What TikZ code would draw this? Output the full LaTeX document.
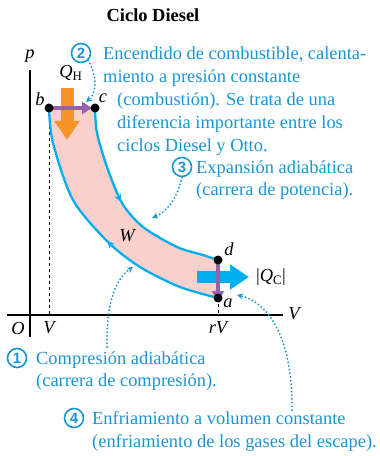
\documentclass[tikz,border=0pt]{standalone}
\usepackage{fontspec}
\setmainfont{Liberation Serif}
\newfontfamily\numfont{Liberation Sans}
\usepackage{xcolor}
\usetikzlibrary{arrows.meta,decorations.markings}

\definecolor{cycleblue}{RGB}{0,174,239}
\definecolor{noteblue}{RGB}{25,150,210}
\definecolor{areapink}{RGB}{249,208,204}
\definecolor{heatorange}{RGB}{247,148,40}
\definecolor{stepviolet}{RGB}{150,96,170}
\newcommand\notesize{\fontsize{18.5}{23}\selectfont}

\begin{document}
\begin{tikzpicture}[x=1bp, y=-1bp, every node/.style={font=\notesize, inner sep=0pt},
  note/.style={text=noteblue, align=left, anchor=north west},
  num/.style={circle, draw=noteblue, line width=1.6pt, text=noteblue, minimum size=19bp,
              font=\numfont\bfseries\fontsize{15}{15}\selectfont},
  dot/.style={circle, fill=black, minimum size=9bp},
  lbl/.style={font=\notesize\itshape},
  pointer/.style={noteblue, line width=2.1pt, line cap=round, dash pattern=on 0pt off 3.7pt,
                  -{Stealth[length=6bp, width=6bp, line cap=butt]}},
  branch/.style={cycleblue, line width=2.3pt,
                 postaction={decorate, decoration={markings,
                   mark=at position #1 with {\arrow{Stealth[length=8bp, width=7bp]}}}}},
  heat/.style={line width=#1, -{Triangle[length=19bp, width=24bp]}},
  turn/.style={stepviolet, line width=3.6pt, -{Triangle[length=10bp, width=12bp]}}]
  \useasboundingbox (0,0) rectangle (379,456);

  \node[font=\notesize\bfseries] (title) at (153,15) {Ciclo Diesel};

  % axes
  \draw[line width=1.1pt] (30,70) -- (30,337);
  \draw[line width=1.1pt] (7,315) -- (283,315);
  \node[lbl] (plbl) at (30,56) {p};
  \node[lbl] (Vax) at (294,314) {V};
  \node[lbl] (O) at (18,328) {O};
  \node[lbl] (V1) at (49,328) {V};
  \node[lbl] (rV) at (218,328) {rV};

  % corners of the cycle
  \coordinate (b) at (49,108);
  \coordinate (c) at (95,108);
  \coordinate (d) at (218,260);
  \coordinate (a) at (218,298);

  \fill[areapink] plot[smooth] coordinates {(c) (97,133) (107,167) (122,203) (143,227) (177,247) (203,255) (d)}
    -- plot[smooth] coordinates {(a) (180,287) (140,267) (108,242) (73,200) (53,143) (b)} -- cycle;

  \draw[dashed, line width=1pt] (b) -- (b |- 0,315);
  \draw[dashed, line width=1pt] (a) -- (a |- 0,315);

  \draw[branch=0.46] plot[smooth] coordinates {(c) (97,133) (107,167) (122,203) (143,227) (177,247) (203,255) (d)};
  \draw[branch=0.46] plot[smooth] coordinates {(a) (180,287) (140,267) (108,242) (73,200) (53,143) (b)};

  % heat in and out
  \coordinate (qh1) at (67,88);
  \coordinate (qh2) at (67,140);
  \draw[heat=13bp, heatorange] (qh1) -- (qh2);
  \coordinate (qc1) at (197,277);
  \coordinate (qc2) at (249,277);
  \draw[heat=12bp, cycleblue] (qc1) -- (qc2);

  \draw[turn] (b) -- ([xshift=-3bp]c);
  \draw[turn] (d) -- ([yshift=-3bp]a);

  \node[dot] (bd) at (b) {};
  \node[dot] (cd) at (c) {};
  \node[dot] (dd) at (d) {};
  \node[dot] (ad) at (a) {};
  \node[lbl] (blbl) at (40,99) {b};
  \node[lbl] (clbl) at (103,98) {c};
  \node[lbl] (dlbl) at (229,249) {d};
  \node[lbl] (albl) at (228,303) {a};
  \node[lbl] (W) at (127,236) {W};
  \node (QH) at (71,73) {\textit{Q}\textsubscript{H}};
  \node (QC) at (271,277) {|\textit{Q}\textsubscript{C}|};

  % notes
  \node[num] (n2) at (81,53) {2};
  \node[note] (t2) at (103,47) {Encendido de combustible, calenta-\\miento a presión constante\\
    \hspace*{14bp}(combustión). Se trata de una\\\hspace*{14bp}diferencia importante entre los\\
    \hspace*{14bp}ciclos Diesel y Otto.};
  \node[num] (n3) at (182,167) {3};
  \node[note] (t3) at (196,160) {Expansión adiabática\\(carrera de potencia).};
  \node[num] (n1) at (17,358) {1};
  \node[note] (t1) at (36,351) {Compresión adiabática\\(carrera de compresión).};
  \node[num] (n4) at (74,418) {4};
  \node[note] (t4) at (92,411) {Enfriamiento a volumen constante\\(enfriamiento de los gases del escape).};

  \coordinate (p2) at (86,102);
  \coordinate (p3) at (152,218);
  \coordinate (s1) at (107,347);
  \coordinate (p1) at (133,267);
  \coordinate (s4) at (292,410);
  \coordinate (p4) at (237,295);
  \draw[pointer] (n2.south east) .. controls (97,76) and (97,93) .. (p2);
  \draw[pointer] (n3.south) .. controls (177,200) and (166,212) .. (p3);
  \draw[pointer] (s1) .. controls (106,300) and (117,278) .. (p1);
  \draw[pointer] (s4) .. controls (293,345) and (272,303) .. (p4);
\end{tikzpicture}
\end{document}
